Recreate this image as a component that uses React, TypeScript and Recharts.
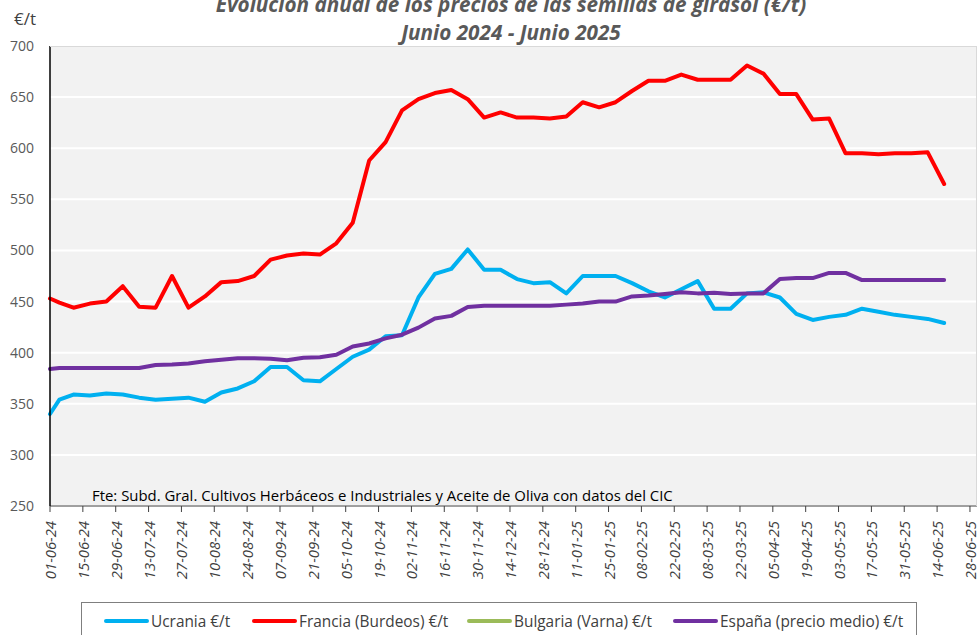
import React from "react";
import { LineChart, Line, XAxis, YAxis, CartesianGrid, Legend } from "recharts";

// Observation dates (dd-mm-yy)
const dates: string[] = [
  "01-06-24", "05-06-24",
  "11-06-24", "18-06-24", "25-06-24", "02-07-24", "09-07-24", "16-07-24", "23-07-24", "30-07-24",
  "06-08-24", "13-08-24", "20-08-24", "27-08-24", "03-09-24", "10-09-24", "17-09-24", "24-09-24",
  "01-10-24", "08-10-24", "15-10-24", "22-10-24", "29-10-24", "05-11-24", "12-11-24", "19-11-24",
  "26-11-24", "03-12-24", "10-12-24", "17-12-24", "24-12-24", "31-12-24", "07-01-25", "14-01-25",
  "21-01-25", "28-01-25", "04-02-25", "11-02-25", "18-02-25", "25-02-25", "04-03-25", "11-03-25",
  "18-03-25", "25-03-25", "01-04-25", "08-04-25", "15-04-25", "22-04-25", "29-04-25", "06-05-25",
  "13-05-25", "20-05-25", "27-05-25", "03-06-25", "10-06-25", "17-06-25",
];

const ucrania: number[] = [
  340, 354,
  359, 358, 360, 359, 356, 354, 355, 356, 352, 361, 365, 372, 386, 386, 373, 372,
  384, 396, 403, 416, 417, 454, 477, 482, 501, 481, 481, 472, 468, 469, 458, 475,
  475, 475, 468, 460, 454, 462, 470, 443, 443, 458, 459, 454, 438, 432, 435, 437,
  443, 440, 437, 435, 433, 429,
];

const francia: number[] = [
  453, 449,
  444, 448, 450, 465, 445, 444, 475, 444, 455, 469, 470, 475, 491, 495, 497, 496,
  507, 527, 588, 606, 637, 648, 654, 657, 648, 630, 635, 630, 630, 629, 631, 645,
  640, 645, 656, 666, 666, 672, 667, 667, 667, 681, 673, 653, 653, 628, 629, 595,
  595, 594, 595, 595, 596, 565,
];

const bulgaria: (number | null)[] = [];

const espana: number[] = [
  384, 385,
  385, 385, 385, 385, 385, 388, 388.5, 389.5, 391.6, 393, 394.5, 394.5, 394, 392.5, 395, 395.6,
  398, 406, 409, 414, 417.6, 424.5, 433.5, 436, 444.6, 446, 446, 446, 446, 446, 447, 448,
  450, 450, 455, 456, 457.5, 459, 458, 458.6, 457.5, 458, 458, 472, 473, 473, 478, 478,
  471, 471, 471, 471, 471, 471,
];

const xTickLabels: string[] = [
  "01-06-24", "15-06-24", "29-06-24", "13-07-24", "27-07-24", "10-08-24", "24-08-24",
  "07-09-24", "21-09-24", "05-10-24", "19-10-24", "02-11-24", "16-11-24", "30-11-24",
  "14-12-24", "28-12-24", "11-01-25", "25-01-25", "08-02-25", "22-02-25", "08-03-25",
  "22-03-25", "05-04-25", "19-04-25", "03-05-25", "17-05-25", "31-05-25", "14-06-25",
  "28-06-25",
];

const yTicks: number[] = [250, 300, 350, 400, 450, 500, 550, 600, 650, 700];

const series = [
  { key: "ucrania", name: "Ucrania €/t", color: "#00B0F0" },
  { key: "francia", name: "Francia (Burdeos) €/t", color: "#FF0000" },
  { key: "bulgaria", name: "Bulgaria (Varna) €/t", color: "#9BBB59" },
  { key: "espana", name: "España (precio medio) €/t", color: "#7030A0" },
];

const DAY = 86400000;
const parseDate = (s: string) => {
  const [d, m, y] = s.split("-").map(Number);
  return Date.UTC(2000 + y, m - 1, d);
};
const BASE = parseDate(dates[0]);
const toOffset = (s: string) => Math.round((parseDate(s) - BASE) / DAY);
const fmt = (off: number) => {
  const dt = new Date(BASE + off * DAY);
  const dd = String(dt.getUTCDate()).padStart(2, "0");
  const mm = String(dt.getUTCMonth() + 1).padStart(2, "0");
  const yy = String(dt.getUTCFullYear() % 100).padStart(2, "0");
  return `${dd}-${mm}-${yy}`;
};

const data = dates.map((d, i) => ({
  t: toOffset(d),
  ucrania: ucrania[i] ?? null,
  francia: francia[i] ?? null,
  bulgaria: bulgaria[i] ?? null,
  espana: espana[i] ?? null,
}));

const xTicks = xTickLabels.map(toOffset);

const FONT = "'Open Sans', 'Noto Sans', sans-serif";

const XTick = (props: any) => {
  const { x, y, payload } = props;
  return (
    <text
      x={0}
      y={0}
      transform={`translate(${x + 6},${y + 7}) rotate(-90)`}
      textAnchor="end"
      fontFamily={FONT}
      fontStyle="italic"
      fontSize={14.8}
      fill="#404040"
    >
      {fmt(payload.value)}
    </text>
  );
};

const LegendBox = () => (
  <div
    style={{
      boxSizing: "border-box",
      width: 836,
      height: 40,
      border: "1px solid #7F7F7F",
      borderBottom: "none",
      position: "relative",
      fontFamily: FONT,
      fontSize: 15.4,
      color: "#404040",
      background: "#fff",
    }}
  >
    {series.map((s, i) => {
      const lefts = [22, 170, 385, 591];
      return (
        <div
          key={s.key}
          style={{
            position: "absolute",
            left: lefts[i],
            top: 7,
            display: "flex",
            alignItems: "center",
            whiteSpace: "nowrap",
            height: 22,
          }}
        >
          <span
            style={{
              display: "inline-block",
              width: 45,
              height: 4,
              borderRadius: 2,
              background: s.color,
              marginRight: 2,
            }}
          />
          <span>{s.name}</span>
        </div>
      );
    })}
  </div>
);

export default function App() {
  return (
    <div style={{ position: "absolute", left: 0, top: 0, width: 980, height: 635, background: "#fff", overflow: "hidden" }}>
      <LineChart
        width={980}
        height={635}
        data={data}
        margin={{ top: 46, right: 3, left: 0, bottom: 0 }}
      >
        <CartesianGrid
          vertical={false}
          horizontal={true}
          stroke="#FFFFFF"
          strokeWidth={2}
          fill="#F2F2F2"
        />
        <XAxis
          dataKey="t"
          type="number"
          domain={[0, 395]}
          ticks={xTicks}
          interval={0}
          height={89}
          axisLine={{ stroke: "#404040", strokeWidth: 1 }}
          tickLine={{ stroke: "#404040" }}
          tickSize={6}
          tick={<XTick />}
        />
        <YAxis
          type="number"
          domain={[250, 700]}
          ticks={yTicks}
          interval={0}
          width={50}
          axisLine={{ stroke: "#000000", strokeWidth: 1.5 }}
          tickLine={false}
          tickMargin={10}
          tick={{ fontFamily: FONT, fontSize: 14, fill: "#595959" }}
        />
        <Legend
          verticalAlign="bottom"
          content={<LegendBox />}
          wrapperStyle={{ position: "absolute", top: 602, left: 81, width: 836, height: 40 }}
        />
        {series.map((s) => (
          <Line
            key={s.key}
            type="linear"
            dataKey={s.key}
            name={s.name}
            stroke={s.color}
            strokeWidth={4}
            dot={false}
            activeDot={false}
            strokeLinejoin="round"
            strokeLinecap="round"
            connectNulls={false}
            isAnimationActive={false}
          />
        ))}
      </LineChart>
      <div
        style={{
          position: "absolute",
          left: 50,
          top: 46,
          width: 927,
          height: 460,
          borderTop: "1px solid #D9D9D9",
          borderRight: "1px solid #D9D9D9",
          boxSizing: "border-box",
          pointerEvents: "none",
        }}
      />
      <div
        style={{
          position: "absolute",
          left: 0,
          top: -10,
          width: 1022,
          textAlign: "center",
          fontFamily: FONT,
          fontWeight: 700,
          fontStyle: "italic",
          fontSize: 20.7,
          lineHeight: "28px",
          color: "#595959",
          whiteSpace: "nowrap",
        }}
      >
        <div>Evolución anual de los precios de las semillas de girasol (€/t)</div>
        <div>Junio 2024 - Junio 2025</div>
      </div>
      <div
        style={{
          position: "absolute",
          left: 14,
          top: 7,
          fontFamily: FONT,
          fontSize: 17,
          color: "#404040",
        }}
      >
        €/t
      </div>
      <div
        style={{
          position: "absolute",
          left: 92,
          top: 485,
          fontFamily: FONT,
          fontSize: 14.9,
          color: "#000000",
          whiteSpace: "nowrap",
        }}
      >
        Fte: Subd. Gral. Cultivos Herbáceos e Industriales y Aceite de Oliva con datos del CIC
      </div>
    </div>
  );
}
